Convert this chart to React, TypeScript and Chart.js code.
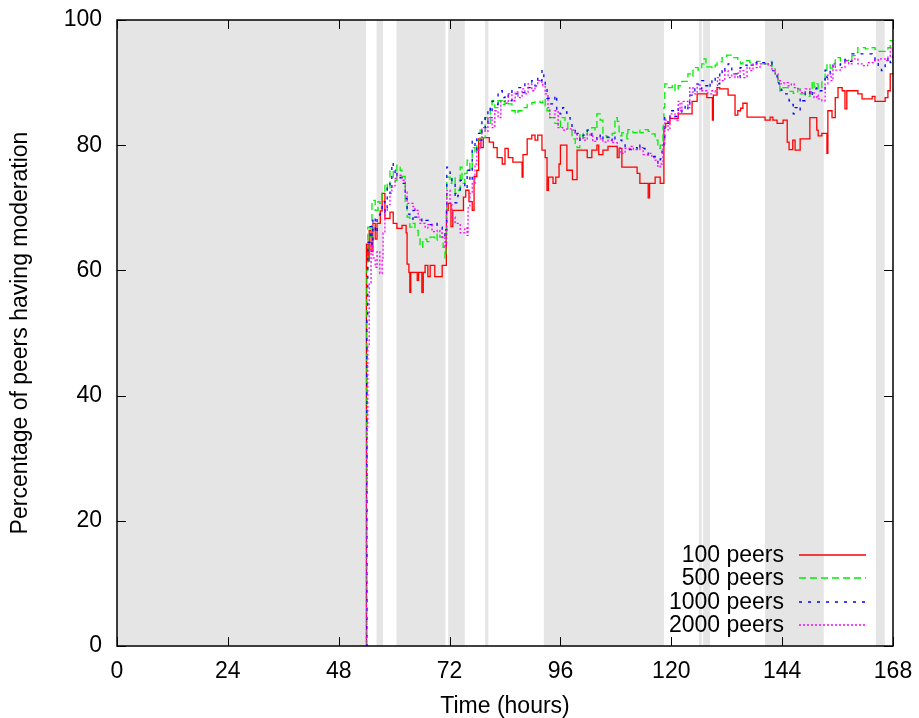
import { useEffect, useRef } from "react";
import { Chart, registerables } from "chart.js";

Chart.register(...registerables);

// Axis ticks (hours, percent)
const hourTicks = [0, 24, 48, 72, 96, 120, 144, 168];
const percentTicks = [0, 20, 40, 60, 80, 100];

// Periods shaded in grey, as [start hour, end hour]
const shadedHours: [number, number][] = [
  [0, 53.9], [56.2, 57.6], [60.5, 71.1], [71.7, 75.3], [79.7, 80.4],
  [92.4, 118.4], [126.0, 126.6], [126.9, 128.4], [140.3, 153.0], [164.3, 166.2],
];

// Step series: [hour, percentage of peers having moderation]
const peers100: [number, number][] = [
  [53.9, 0], [54.0, 64.2], [54.3, 61.5], [54.6, 66.4], [55.0, 63.0], [55.4, 67.5], [55.9, 65.0],
  [56.3, 67.5], [57.0, 69.5], [57.4, 72.3], [58.0, 68.3], [59.1, 69.3], [59.8, 67.5], [60.6, 66.7],
  [61.7, 67.2], [62.6, 66.0], [62.8, 61.0], [63.2, 59.7], [63.4, 56.5], [63.6, 59.7], [65.0, 58.4],
  [65.3, 59.7], [66.0, 56.5], [66.3, 59.7], [66.7, 60.8], [67.3, 59.0], [67.8, 60.8], [68.8, 59.0],
  [70.4, 60.8], [71.3, 69.6], [71.7, 70.7], [72.3, 67.0], [72.7, 69.6], [75.0, 71.7], [75.5, 72.8],
  [76.2, 71.0], [76.9, 69.6], [77.3, 75.0], [77.9, 76.0], [78.3, 81.0], [78.8, 79.6], [79.3, 81.2],
  [80.6, 80.5], [81.5, 79.6], [82.3, 78.0], [83.4, 77.0], [84.0, 79.5], [84.7, 78.0], [85.7, 77.3],
  [87.7, 74.9], [87.9, 78.5], [88.8, 81.0], [89.8, 81.6], [90.5, 80.8], [91.1, 81.6], [92.0, 79.2],
  [92.7, 78.0], [93.1, 72.8], [93.4, 74.9], [94.4, 73.9], [95.0, 74.9], [95.7, 77.0], [96.0, 80.0],
  [97.4, 76.0], [98.6, 74.5], [99.6, 79.2], [101.8, 78.0], [102.8, 79.2], [103.9, 80.0], [104.3, 78.5],
  [105.2, 79.2], [106.3, 79.8], [108.3, 78.0], [108.7, 79.5], [109.3, 76.5], [112.6, 75.5], [113.2, 73.9],
  [115.0, 71.6], [115.3, 73.9], [116.5, 74.9], [117.6, 73.9], [118.4, 82.8], [118.8, 83.5], [119.7, 84.3],
  [121.5, 85.0], [124.5, 87.0], [125.6, 88.2], [127.7, 87.6], [128.9, 84.0], [129.1, 88.0], [129.9, 89.2],
  [130.5, 89.0], [132.3, 88.0], [133.8, 84.8], [134.4, 85.5], [135.0, 85.9], [135.5, 86.7], [136.4, 84.5],
  [140.3, 84.0], [141.4, 84.5], [142.0, 84.0], [142.9, 83.5], [144.2, 84.0], [145.1, 80.5], [145.5, 79.3],
  [146.3, 80.8], [146.8, 79.2], [147.9, 81.0], [150.0, 84.4], [151.5, 82.4], [151.8, 81.5], [152.6, 81.9],
  [153.7, 78.7], [153.9, 85.5], [154.8, 84.4], [155.5, 87.6], [156.1, 89.2], [157.0, 88.7], [157.6, 85.8],
  [158.0, 88.7], [160.4, 88.2], [161.3, 87.4], [163.5, 87.8], [164.1, 87.0], [166.3, 87.6], [166.9, 88.7],
  [167.4, 91.4], [168.0, 91.4],
];

const peers500: [number, number][] = [
  [53.9, 0], [54.1, 60.0], [54.3, 66.9], [54.8, 65.3], [55.2, 71.2], [55.9, 69.6], [56.5, 71.0],
  [56.9, 70.7], [57.4, 72.3], [58.0, 73.9], [58.5, 72.8], [59.1, 76.0], [59.8, 74.4], [60.6, 76.8],
  [61.3, 76.0], [61.7, 75.0], [62.4, 71.0], [62.8, 68.5], [63.4, 66.9], [64.1, 67.5], [64.5, 66.4],
  [65.2, 65.3], [65.6, 63.7], [66.2, 65.0], [67.1, 64.6], [67.8, 65.3], [68.8, 64.8], [69.3, 65.9],
  [69.9, 65.3], [70.6, 63.7], [71.0, 62.0], [71.2, 65.9], [71.4, 74.9], [72.1, 73.9], [72.5, 74.9],
  [73.2, 72.3], [73.8, 72.8], [74.3, 76.5], [74.7, 73.9], [75.3, 75.5], [75.8, 77.6], [76.4, 76.0],
  [76.9, 79.6], [77.5, 78.7], [77.9, 80.8], [78.6, 82.4], [79.0, 81.2], [79.7, 84.4], [80.3, 83.5],
  [80.8, 86.0], [81.2, 87.1], [81.8, 86.0], [82.5, 87.1], [83.4, 86.5], [84.0, 87.1], [84.7, 86.6],
  [85.5, 85.5], [86.2, 85.0], [86.8, 85.5], [87.7, 86.0], [88.8, 86.5], [89.8, 86.8], [90.5, 87.0],
  [91.6, 86.8], [92.2, 87.4], [92.7, 86.3], [93.1, 85.5], [93.7, 84.4], [94.8, 83.5], [95.5, 82.8],
  [96.0, 84.4], [97.0, 83.6], [97.6, 82.4], [98.5, 81.0], [99.2, 80.3], [99.6, 79.6], [100.2, 81.9],
  [100.9, 81.2], [101.8, 82.4], [102.8, 82.8], [103.5, 82.4], [103.9, 85.0], [104.6, 84.0], [105.2, 81.5],
  [106.1, 81.2], [107.2, 81.9], [107.8, 84.4], [108.3, 83.8], [108.7, 81.5], [109.3, 82.0], [110.4, 81.0],
  [110.6, 82.5], [111.7, 82.0], [112.6, 82.4], [113.2, 82.0], [114.3, 82.5], [115.0, 82.2], [115.8, 81.8],
  [116.5, 80.8], [117.1, 79.5], [117.6, 80.0], [118.2, 83.0], [118.4, 86.0], [118.6, 89.8], [119.3, 89.2],
  [120.2, 89.8], [120.8, 88.7], [121.5, 89.5], [122.3, 90.2], [123.6, 91.4], [124.5, 91.0], [124.7, 92.4],
  [125.8, 92.0], [126.6, 93.0], [127.1, 93.8], [127.5, 92.5], [128.8, 92.3], [129.5, 92.8], [129.9, 93.3],
  [131.0, 94.0], [132.0, 94.4], [133.1, 94.0], [134.4, 93.3], [135.0, 93.0], [135.5, 93.5], [137.0, 93.2],
  [138.5, 93.4], [139.2, 93.0], [141.0, 93.4], [141.8, 92.2], [142.5, 91.0], [143.1, 89.8], [143.5, 88.7],
  [144.2, 89.2], [145.3, 88.6], [146.4, 88.3], [147.4, 89.0], [147.9, 88.2], [149.0, 87.8], [150.0, 88.5],
  [150.5, 90.3], [150.9, 89.3], [151.5, 89.8], [151.8, 89.0], [152.6, 90.5], [153.3, 91.5], [153.7, 93.0],
  [154.4, 92.3], [155.0, 92.8], [155.5, 94.0], [156.6, 93.3], [157.6, 93.5], [158.4, 93.8], [159.1, 94.3],
  [159.8, 94.8], [160.4, 95.6], [162.0, 95.4], [163.5, 95.6], [164.1, 95.3], [164.8, 95.0], [166.3, 95.2],
  [166.9, 95.6], [167.4, 96.7], [168.0, 96.7],
];

const peers1000: [number, number][] = [
  [53.9, 0], [54.1, 52.0], [54.3, 64.5], [54.8, 67.0], [55.2, 64.0], [55.4, 68.5], [55.9, 66.0],
  [56.3, 68.5], [56.9, 69.0], [57.4, 71.0], [58.0, 69.3], [58.5, 73.9], [59.1, 72.3], [59.5, 77.2],
  [59.8, 76.0], [60.2, 75.0], [60.6, 75.5], [61.3, 74.8], [61.7, 73.9], [62.4, 71.5], [62.8, 69.0],
  [63.4, 68.2], [64.1, 69.6], [64.5, 68.5], [65.2, 68.5], [66.0, 67.7], [66.7, 68.0], [67.4, 67.3],
  [68.2, 67.6], [69.3, 67.2], [69.9, 66.9], [70.4, 66.2], [71.0, 65.5], [71.2, 66.5], [71.4, 76.5],
  [72.1, 75.5], [72.5, 74.0], [73.2, 70.8], [73.8, 72.0], [74.3, 74.4], [75.3, 73.0], [75.8, 76.0],
  [76.4, 74.2], [76.9, 80.8], [77.5, 79.2], [77.9, 81.9], [78.6, 80.8], [79.0, 84.4], [79.7, 82.8],
  [80.3, 86.0], [80.8, 84.4], [81.2, 87.0], [81.8, 86.5], [82.5, 88.7], [83.4, 87.6], [84.0, 88.2],
  [84.7, 87.1], [85.5, 88.7], [86.2, 88.2], [86.8, 89.2], [87.7, 88.4], [88.3, 89.8], [89.0, 89.2],
  [89.8, 90.3], [90.5, 89.5], [91.1, 90.8], [91.6, 90.3], [92.0, 92.0], [92.4, 90.5], [92.7, 89.5],
  [93.1, 87.5], [93.7, 86.6], [94.8, 88.0], [95.2, 85.5], [95.9, 85.0], [96.5, 86.0], [97.0, 85.3],
  [97.4, 84.4], [98.1, 83.7], [98.5, 82.8], [99.2, 81.5], [99.6, 81.9], [100.2, 80.8], [100.9, 81.6],
  [101.8, 82.4], [102.4, 81.9], [102.8, 81.2], [103.9, 80.8], [104.6, 81.8], [105.2, 80.9], [106.1, 81.3],
  [106.7, 80.7], [107.2, 81.5], [107.8, 81.0], [108.3, 80.8], [109.3, 80.3], [110.0, 79.6], [110.6, 79.3],
  [111.7, 79.6], [112.6, 79.2], [113.2, 80.0], [113.9, 79.5], [114.3, 79.0], [115.0, 78.4], [115.8, 78.2],
  [116.5, 77.6], [117.1, 77.0], [117.6, 77.8], [118.0, 80.0], [118.4, 81.0], [118.6, 84.4], [119.3, 83.5],
  [119.7, 85.5], [120.8, 84.6], [121.5, 86.0], [122.3, 85.3], [123.0, 86.5], [123.6, 85.8], [124.0, 88.0],
  [124.5, 88.7], [125.1, 89.8], [125.8, 89.0], [126.6, 90.3], [127.3, 89.5], [127.9, 90.0], [128.4, 89.3],
  [128.8, 90.8], [129.5, 89.8], [130.5, 92.0], [131.0, 91.4], [131.6, 92.4], [132.3, 93.0], [132.7, 92.3],
  [133.1, 91.4], [134.4, 90.8], [134.9, 92.4], [135.5, 92.8], [136.4, 92.5], [137.0, 92.8], [137.7, 93.3],
  [138.5, 93.0], [139.2, 93.2], [141.0, 93.2], [141.8, 91.9], [142.5, 91.4], [142.9, 90.3], [143.3, 89.8],
  [143.8, 88.8], [144.2, 88.2], [145.1, 87.6], [145.5, 87.1], [145.9, 86.5], [146.4, 85.0], [146.8, 86.0],
  [147.4, 85.5], [147.9, 87.6], [148.5, 87.1], [149.0, 88.7], [150.0, 87.8], [150.5, 89.0], [151.5, 89.2],
  [152.2, 88.7], [152.6, 88.5], [153.3, 92.0], [153.7, 90.8], [154.4, 91.8], [155.0, 92.8], [156.1, 92.8],
  [156.6, 93.0], [157.6, 93.7], [158.3, 93.4], [159.1, 94.6], [162.0, 94.6], [163.5, 94.3], [164.1, 93.5],
  [164.8, 92.3], [165.5, 91.9], [166.3, 93.0], [166.9, 94.0], [167.4, 93.2], [168.0, 94.5],
];

const peers2000: [number, number][] = [
  [53.9, 0], [54.0, 25.0], [54.1, 35.0], [54.3, 48.0], [54.6, 58.0], [55.0, 64.0], [55.4, 62.0],
  [55.9, 60.5], [56.3, 63.0], [56.9, 59.5], [57.4, 62.0], [57.6, 66.0], [58.0, 69.6], [58.5, 70.5],
  [59.1, 72.3], [59.5, 73.5], [60.2, 74.7], [60.6, 75.2], [61.7, 74.4], [62.4, 72.5], [62.8, 70.7],
  [64.1, 70.2], [64.5, 69.6], [65.2, 68.5], [65.6, 67.5], [66.7, 66.8], [67.3, 67.3], [68.2, 66.2],
  [69.3, 66.4], [69.9, 66.0], [70.4, 65.3], [71.0, 63.7], [71.2, 64.5], [71.4, 72.8], [72.1, 70.5],
  [72.5, 68.5], [73.2, 67.5], [74.3, 66.0], [75.3, 66.8], [75.8, 65.6], [76.0, 70.0], [76.4, 72.3],
  [76.9, 73.9], [77.5, 77.0], [77.9, 79.2], [78.6, 81.2], [79.0, 82.8], [79.7, 82.2], [80.3, 84.4],
  [81.2, 82.8], [81.8, 85.5], [82.5, 84.4], [83.1, 87.0], [84.0, 86.7], [84.7, 88.2], [85.5, 87.1],
  [86.2, 88.5], [86.8, 87.6], [87.7, 89.0], [88.3, 88.2], [89.0, 89.8], [89.8, 88.7], [90.5, 89.5],
  [91.1, 90.3], [92.0, 90.0], [92.2, 89.5], [92.7, 88.2], [93.3, 86.0], [93.7, 84.4], [94.8, 85.5],
  [95.5, 82.8], [96.5, 82.4], [97.4, 82.6], [98.5, 82.4], [99.2, 81.9], [99.6, 81.0], [100.2, 81.2],
  [100.9, 80.8], [101.8, 81.8], [102.4, 81.5], [103.0, 80.6], [103.9, 81.0], [105.2, 80.5], [106.3, 80.8],
  [107.2, 80.4], [108.3, 79.6], [108.9, 78.7], [110.0, 79.5], [111.1, 79.8], [111.8, 79.3], [113.2, 79.6],
  [113.9, 78.5], [115.0, 78.7], [115.8, 78.0], [116.5, 77.6], [117.1, 76.5], [117.6, 77.0], [118.2, 80.0],
  [118.6, 84.0], [119.3, 82.4], [119.7, 85.0], [120.8, 84.0], [121.5, 87.0], [121.9, 85.5], [122.3, 87.0],
  [123.6, 86.0], [124.0, 89.2], [124.7, 88.2], [125.6, 89.8], [126.2, 88.7], [126.9, 88.7], [127.9, 88.2],
  [128.8, 88.7], [129.5, 88.3], [130.0, 90.8], [130.5, 90.3], [131.6, 91.9], [132.3, 90.8], [133.1, 91.4],
  [133.8, 90.8], [134.4, 91.5], [134.9, 91.9], [135.7, 90.8], [136.4, 92.4], [137.0, 91.9], [137.7, 93.0],
  [138.4, 92.4], [139.2, 93.0], [141.0, 92.7], [141.8, 91.9], [142.5, 91.4], [143.1, 90.3], [143.6, 89.8],
  [144.4, 90.0], [145.3, 89.5], [146.0, 89.8], [146.6, 89.2], [147.4, 89.0], [147.9, 88.4], [149.0, 89.0],
  [150.0, 88.5], [150.9, 87.6], [151.5, 88.0], [151.8, 87.4], [152.6, 87.1], [153.3, 89.8], [153.9, 91.4],
  [154.6, 90.3], [155.0, 93.0], [155.5, 92.0], [156.6, 92.4], [157.6, 93.5], [158.4, 93.0], [159.1, 93.8],
  [160.4, 93.0], [161.3, 92.7], [162.5, 93.2], [163.7, 93.5], [164.8, 93.8], [166.3, 93.5], [166.9, 94.2],
  [167.4, 95.5], [168.0, 95.0],
];

const seriesLabels = ["100 peers", "500 peers", "1000 peers", "2000 peers"];
const seriesData = [peers100, peers500, peers1000, peers2000];
const seriesColors = ["#ff0000", "#00ee00", "#0000ff", "#ff00ff"];
const seriesDashes: number[][] = [[], [7, 4], [3, 6], [2, 2]];

const FONT = "'Liberation Sans', Arial, Helvetica, sans-serif";

// Grey background periods behind the series
const shadingPlugin = {
  id: "shading",
  beforeDatasetsDraw(chart: any) {
    const { ctx, chartArea, scales } = chart;
    ctx.save();
    ctx.fillStyle = "#e5e5e5";
    for (const [a, b] of shadedHours) {
      const x0 = scales.x.getPixelForValue(a);
      const x1 = scales.x.getPixelForValue(b);
      ctx.fillRect(x0, chartArea.top, x1 - x0, chartArea.bottom - chartArea.top);
    }
    ctx.restore();
  },
};

// Box around the plot with inward ticks mirrored on all four sides
const framePlugin = {
  id: "frame",
  afterDatasetsDraw(chart: any) {
    const { ctx, chartArea, scales } = chart;
    const { left, right, top, bottom } = chartArea;
    const len = 9;
    ctx.save();
    ctx.strokeStyle = "#000";
    ctx.lineWidth = 1;
    ctx.setLineDash([]);
    ctx.beginPath();
    for (const v of hourTicks) {
      const px = Math.round(scales.x.getPixelForValue(v)) + 0.5;
      ctx.moveTo(px, bottom);
      ctx.lineTo(px, bottom - len);
      ctx.moveTo(px, top);
      ctx.lineTo(px, top + len);
    }
    for (const v of percentTicks) {
      const py = Math.round(scales.y.getPixelForValue(v)) + 0.5;
      ctx.moveTo(left, py);
      ctx.lineTo(left + len, py);
      ctx.moveTo(right, py);
      ctx.lineTo(right - len, py);
    }
    ctx.stroke();
    ctx.lineWidth = 1.5;
    ctx.strokeRect(left, top, right - left, bottom - top);
    ctx.restore();
  },
};

// Key in the lower right corner: right-aligned label, sample line after it
const keyPlugin = {
  id: "key",
  afterDraw(chart: any) {
    const { ctx, chartArea } = chart;
    const sampleEnd = chartArea.right - 27;
    const sampleStart = sampleEnd - 67;
    const textRight = sampleStart - 15;
    const rowGap = 23.5;
    const lastRowY = chartArea.bottom - 21;
    const n = seriesLabels.length;
    ctx.save();
    ctx.font = `23px ${FONT}`;
    ctx.textAlign = "right";
    ctx.textBaseline = "middle";
    seriesLabels.forEach((label, i) => {
      const y = lastRowY - (n - 1 - i) * rowGap;
      ctx.setLineDash([]);
      ctx.fillStyle = "#000";
      ctx.fillText(label, textRight, y + 1);
      ctx.strokeStyle = seriesColors[i];
      ctx.lineWidth = 1.5;
      ctx.setLineDash(seriesDashes[i]);
      ctx.beginPath();
      ctx.moveTo(sampleStart, Math.round(y));
      ctx.lineTo(sampleEnd, Math.round(y));
      ctx.stroke();
    });
    ctx.restore();
  },
};

export default function App() {
  const canvasRef = useRef<HTMLCanvasElement | null>(null);

  useEffect(() => {
    if (!canvasRef.current) return;
    const chart = new Chart(canvasRef.current, {
      type: "line",
      data: {
        datasets: seriesData.map((points, i) => ({
          label: seriesLabels[i],
          data: points.map(([x, y]) => ({ x, y })),
          borderColor: seriesColors[i],
          backgroundColor: seriesColors[i],
          borderWidth: 1.3,
          borderDash: seriesDashes[i],
          pointRadius: 0,
          pointHoverRadius: 0,
          stepped: "before" as const,
          fill: false,
          order: seriesData.length - i,
        })),
      },
      options: {
        animation: false,
        responsive: false,
        maintainAspectRatio: false,
        events: [],
        layout: { padding: { top: 20, right: 26, left: 0, bottom: 0 } },
        plugins: {
          legend: { display: false },
          tooltip: { enabled: false },
        },
        scales: {
          x: {
            type: "linear",
            min: 0,
            max: 168,
            afterBuildTicks: (scale: any) => {
              scale.ticks = hourTicks.map((value) => ({ value }));
            },
            afterFit: (scale: any) => {
              scale.height = 74;
              scale.paddingLeft = 0;
              scale.paddingRight = 0;
            },
            grid: { display: false, drawTicks: false },
            border: { display: false },
            ticks: {
              color: "#000",
              padding: 12,
              maxRotation: 0,
              font: { family: FONT, size: 23 },
            },
            title: {
              display: true,
              text: "Time (hours)",
              color: "#000",
              padding: { top: 0, bottom: 0 },
              font: { family: FONT, size: 23 },
            },
          },
          y: {
            type: "linear",
            min: 0,
            max: 100,
            afterBuildTicks: (scale: any) => {
              scale.ticks = percentTicks.map((value) => ({ value }));
            },
            afterFit: (scale: any) => {
              scale.width = 117;
              scale.paddingTop = 0;
              scale.paddingBottom = 0;
            },
            grid: { display: false, drawTicks: false },
            border: { display: false },
            ticks: {
              color: "#000",
              padding: 15,
              font: { family: FONT, size: 23 },
            },
            title: {
              display: true,
              text: "Percentage of peers having moderation",
              color: "#000",
              padding: { top: 7, bottom: 0 },
              font: { family: FONT, size: 23 },
            },
          },
        },
      },
      plugins: [shadingPlugin, framePlugin, keyPlugin],
    });
    return () => chart.destroy();
  }, []);

  return (
    <div style={{ position: "fixed", left: 0, top: 0, width: 919, height: 720, background: "#fff" }}>
      <canvas ref={canvasRef} width={919} height={720} style={{ display: "block", width: 919, height: 720 }} />
    </div>
  );
}
